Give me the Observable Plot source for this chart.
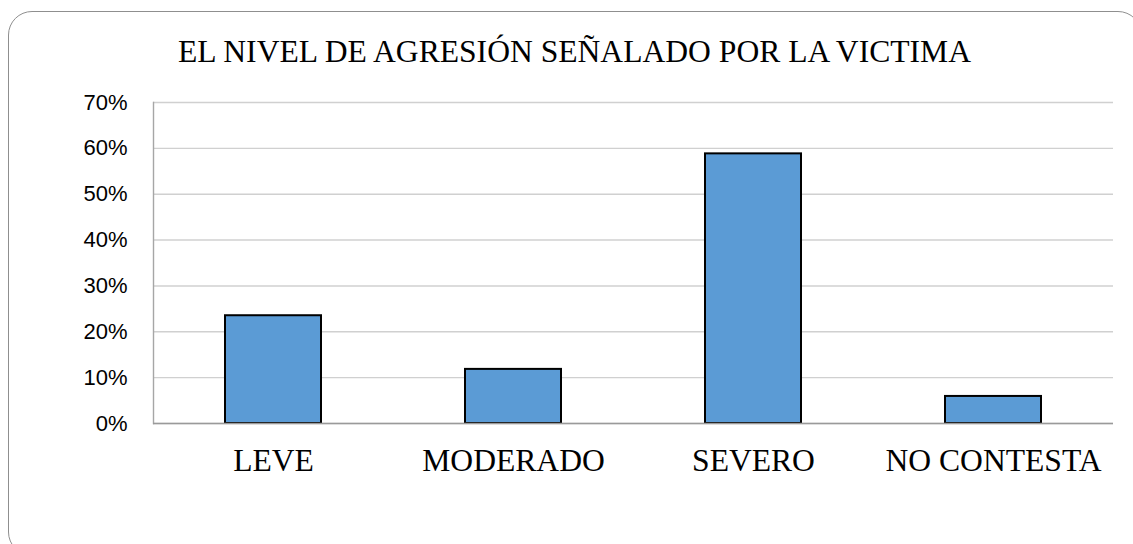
<!DOCTYPE html>
<html>
<head>
<meta charset="utf-8">
<script src="https://cdn.jsdelivr.net/npm/d3@7"></script>
<script src="https://cdn.jsdelivr.net/npm/@observablehq/plot@0.6"></script>
<style>
  html, body { margin: 0; padding: 0; background: #fff; overflow: hidden; }
  #wrap { position: relative; width: 1133px; height: 544px; overflow: hidden; }
  #border { position: absolute; left: 8px; top: 11px; width: 1134px; height: 545px;
            border: 1.5px solid #8f8f8f; border-radius: 24px; box-sizing: border-box; }
  #title { position: absolute; left: 0; width: 1149px; top: 35.5px; text-align: center;
           font-family: "Liberation Serif", "Times New Roman", serif; font-size: 31.6px;
           line-height: 1; color: #000; white-space: nowrap; }
  #chart { position: absolute; left: 0; top: 0; }
</style>
</head>
<body>
<div id="wrap">
  <div id="border"></div>
  <div id="chart"></div>
  <div id="title">EL NIVEL DE AGRESIÓN SEÑALADO POR LA VICTIMA</div>
</div>
<script>
const categories = ["LEVE", "MODERADO", "SEVERO", "NO CONTESTA"];
const values = [0.235, 0.118, 0.588, 0.059];
const yTicks = [0, 0.1, 0.2, 0.3, 0.4, 0.5, 0.6, 0.7];

const data = categories.map((c, i) => ({category: c, value: values[i]}));

const chart = Plot.plot({
  width: 1133,
  height: 544,
  marginLeft: 153,
  marginRight: 20,
  marginTop: 102,
  marginBottom: 121,
  style: {background: "transparent", overflow: "visible"},
  x: {domain: categories, paddingInner: 0.6, paddingOuter: 0.3, label: null},
  y: {domain: [0, 0.7], label: null},
  marks: [
    Plot.gridY(yTicks, {stroke: "#d0d0d0", strokeOpacity: 1, strokeWidth: 1.4}),
    Plot.frame({anchor: "left", stroke: "#a6a6a6", strokeWidth: 1.4}),
    Plot.barY(data, {x: "category", y: "value", fill: "#5b9bd5", stroke: "#000", strokeWidth: 2}),
    Plot.ruleY([0], {stroke: "#9a9a9a", strokeWidth: 1.4}),
    Plot.axisY(yTicks, {tickSize: 0, tickPadding: 26, tickFormat: d3.format(".0%"),
      fontSize: 22, fontFamily: "Liberation Sans, Arial, sans-serif", fill: "#000", label: null}),
    Plot.axisX({tickSize: 0, tickPadding: 25, fontSize: 31.6,
      fontFamily: "Liberation Serif, Times New Roman, serif", fill: "#000", label: null})
  ]
});
document.getElementById("chart").appendChild(chart);
</script>
</body>
</html>
